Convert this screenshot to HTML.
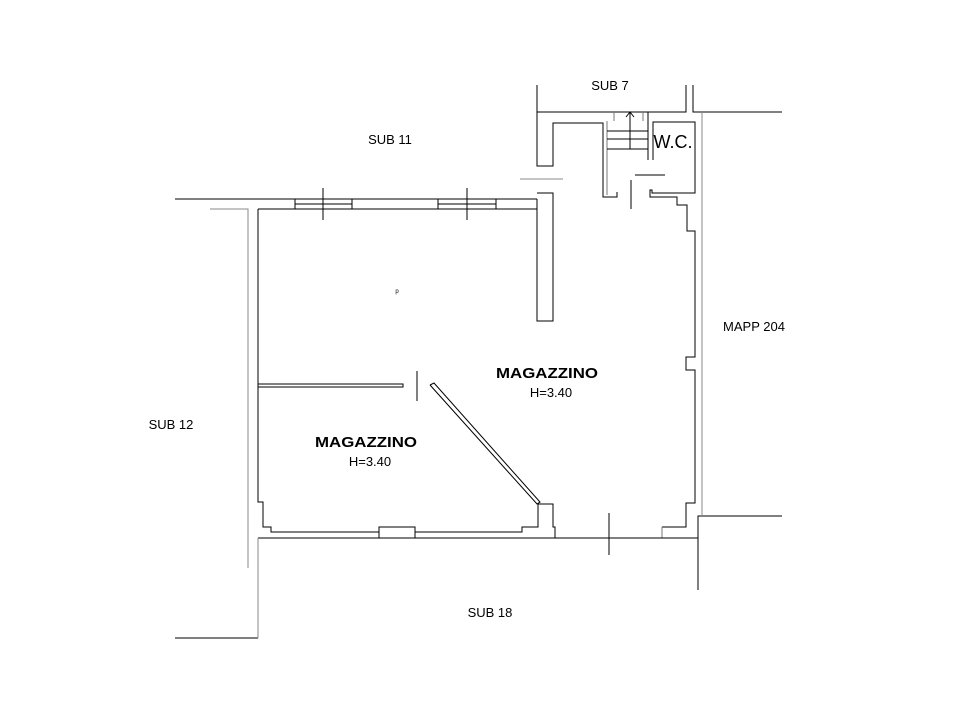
<!DOCTYPE html>
<html><head><meta charset="utf-8"><style>
html,body{margin:0;padding:0;background:#fff;}
svg{display:block;}
text{font-family:"Liberation Sans",Arial,sans-serif;fill:#000;}
</style></head><body>
<svg width="973" height="722" viewBox="0 0 973 722" xmlns="http://www.w3.org/2000/svg">
<g fill="none" stroke="#000" stroke-width="1">
<polyline points="537,85 537,112 686,112 686,85"/>
<polyline points="693,85 693,112 782,112"/>
<polyline points="537,112 537,166 553,166 553,123 603,123 603,197 617,197 617,192"/>
<polyline points="537,193 553,193 553,321 537,321 537,199"/>
<line x1="607" y1="121" x2="607" y2="195" stroke="#777"/>
<line x1="614" y1="112" x2="614" y2="121" stroke="#777"/>
<line x1="643" y1="112" x2="643" y2="121" stroke="#777"/>
<line x1="607" y1="131" x2="648" y2="131"/>
<line x1="607" y1="139" x2="648" y2="139"/>
<line x1="607" y1="149" x2="648" y2="149"/>
<line x1="630" y1="112" x2="630" y2="149"/>
<polyline points="626,117 630,112 634,117"/>
<line x1="648" y1="112" x2="648" y2="160"/>
<polyline points="653,160 653,122 695,122 695,193 652,193 652,190 650,190 650,197 677,197 677,205 687,205 687,231 695,231 695,357 686,357 686,370 695,370 695,503 686,503 686,527 662,527"/>
<line x1="662" y1="527" x2="662" y2="538" stroke="#777"/>
<line x1="635" y1="175" x2="665" y2="175"/>
<line x1="631" y1="180" x2="631" y2="209"/>
<line x1="175" y1="199" x2="537" y2="199"/>
<line x1="258" y1="209" x2="537" y2="209"/>
<polyline points="295,199 295,209"/><polyline points="352,199 352,209"/>
<line x1="295" y1="204" x2="352" y2="204"/>
<line x1="323" y1="188" x2="323" y2="220"/>
<polyline points="438,199 438,209"/><polyline points="496,199 496,209"/>
<line x1="438" y1="204" x2="496" y2="204"/>
<line x1="467" y1="188" x2="467" y2="220"/>
<polyline points="258,209 258,502 263,502 263,527 271,527 271,532 379,532 379,527 415,527 415,532 522,532 522,527 538,527 538,504 553,504 553,527 555,527 555,538"/>
<line x1="258" y1="538" x2="698" y2="538"/>
<line x1="379" y1="532" x2="379" y2="538"/><line x1="415" y1="532" x2="415" y2="538"/>
<polyline points="258,384 403,384 403,387 258,387"/>
<line x1="417" y1="371" x2="417" y2="401"/>
<polyline points="430,385 434,383 540,502 537,504 430,385"/>
<line x1="609" y1="513" x2="609" y2="555"/>
<polyline points="698,590 698,516 782,516"/>
<polyline points="175,638 258,638"/>
</g>
<g fill="none" stroke="#888" stroke-width="1">
<line x1="520" y1="179" x2="563" y2="179"/>
<polyline points="210,209 248,209 248,568"/>
<line x1="258" y1="538" x2="258" y2="638"/>
<line x1="702" y1="112" x2="702" y2="515"/>
</g>
<text x="610" y="90" font-size="13" text-anchor="middle">SUB 7</text>
<text x="390" y="144" font-size="13" text-anchor="middle">SUB 11</text>
<text x="754" y="331" font-size="13" text-anchor="middle">MAPP 204</text>
<text x="171" y="429" font-size="13" text-anchor="middle">SUB 12</text>
<text x="490" y="617" font-size="13" text-anchor="middle">SUB 18</text>
<text x="673" y="148" font-size="18" text-anchor="middle">W.C.</text>
<text x="547" y="378" font-size="15" font-weight="bold" text-anchor="middle" textLength="102" lengthAdjust="spacingAndGlyphs">MAGAZZINO</text>
<text x="551" y="397" font-size="13" text-anchor="middle">H=3.40</text>
<text x="366" y="447" font-size="15" font-weight="bold" text-anchor="middle" textLength="102" lengthAdjust="spacingAndGlyphs">MAGAZZINO</text>
<text x="370" y="466" font-size="13" text-anchor="middle">H=3.40</text>
<text x="397" y="293" font-size="6" text-anchor="middle">p</text>
</svg>
</body></html>
